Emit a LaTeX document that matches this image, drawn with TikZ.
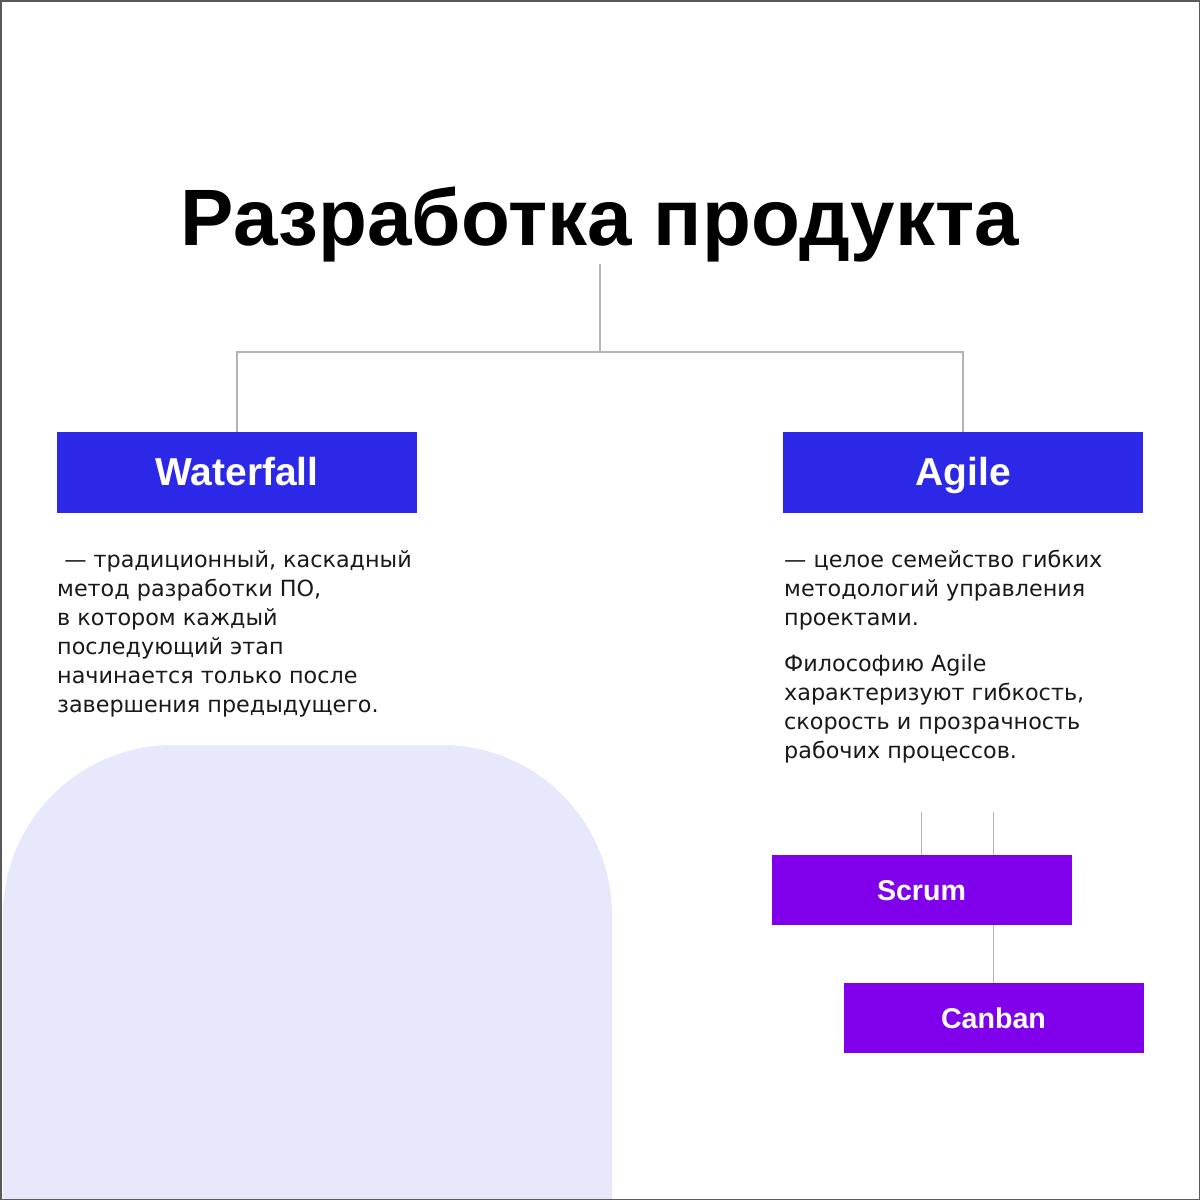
\documentclass[tikz,border=0pt]{standalone}
\usepackage{fontspec}
\setmainfont{Liberation Sans}
\newfontfamily\bodyfont{DejaVu Sans}
\usetikzlibrary{backgrounds}
\definecolor{boxblue}{RGB}{44,40,232}
\definecolor{boxpurple}{RGB}{128,0,236}
\definecolor{lav}{RGB}{232,232,252}
\definecolor{conngray}{RGB}{180,180,180}
\definecolor{frame}{RGB}{90,90,90}
\definecolor{txt}{RGB}{25,25,25}
\tikzset{
  mainbox/.style={rectangle, fill=boxblue, text=white, inner sep=0pt,
    minimum width=360pt, minimum height=81pt, text height=28pt, text depth=3pt,
    font=\fontsize{39}{44}\selectfont\bfseries},
  subbox/.style={rectangle, fill=boxpurple, text=white, inner sep=0pt,
    minimum width=300pt, minimum height=70.5pt, text height=20.5pt, text depth=0.5pt,
    font=\fontsize{28.6}{32}\selectfont\bfseries},
  desc/.style={anchor=north west, inner sep=0pt, align=left, text=txt,
    font=\bodyfont\fontsize{22.3}{29}\selectfont},
  conn/.style={draw=conngray, line width=1.8pt},
}
\begin{document}
\begin{tikzpicture}[x=1pt,y=-1pt]
\useasboundingbox (0,0) rectangle (1200,1200);
\begin{scope}[on background layer]
\fill[white] (0,0) rectangle (1200,1200);
\begin{scope}
\clip (0,0) rectangle (1200,1200);
\fill[lav, rounded corners=170pt] (3,1400) -- (3,745) -- (612,745) -- (612,1400) -- cycle;
\end{scope}
\end{scope}

% title
\node[anchor=base, inner sep=0pt, font=\fontsize{80}{90}\selectfont\bfseries] (title) at (600,245) {Разработка продукта};

% main boxes
\node[mainbox] (wf) at (237,472.5) {Waterfall};
\node[mainbox] (ag) at (963,472.5) {Agile};

% sub boxes
\node[subbox] (scrum) at (921.5,890) {Scrum};
\node[subbox] (canban) at (993.5,1018) {Canban};

% connectors
\coordinate (t0) at (600,264);
\coordinate (jn) at (600,352);
\coordinate (s1) at (921.5,812);
\coordinate (s2) at (993.5,812);
\begin{scope}[on background layer]
\draw[conn] (t0) -- (jn);
\draw[conn] (wf.north) |- (jn) -| (ag.north);
\draw[conn] (s1) -- (scrum.north);
\draw[conn] (s2) -- (canban.north);
\end{scope}

% descriptions
\node[desc] (wftext) at (57,546.7) {\strut\ — традиционный, каскадный\\
метод разработки ПО,\\
в котором каждый\\
последующий этап\\
начинается только после\\
завершения предыдущего.};
\node[desc] (agtext) at (784,546.7) {\strut— целое семейство гибких\\
методологий управления\\
проектами.\\[17.7pt]
Философию Agile\\
характеризуют гибкость,\\
скорость и прозрачность\\
рабочих процессов.};

% frame
\draw[frame, line width=1.5pt] (0.75,0.75) rectangle (1199.25,1199.25);
\end{tikzpicture}
\end{document}
